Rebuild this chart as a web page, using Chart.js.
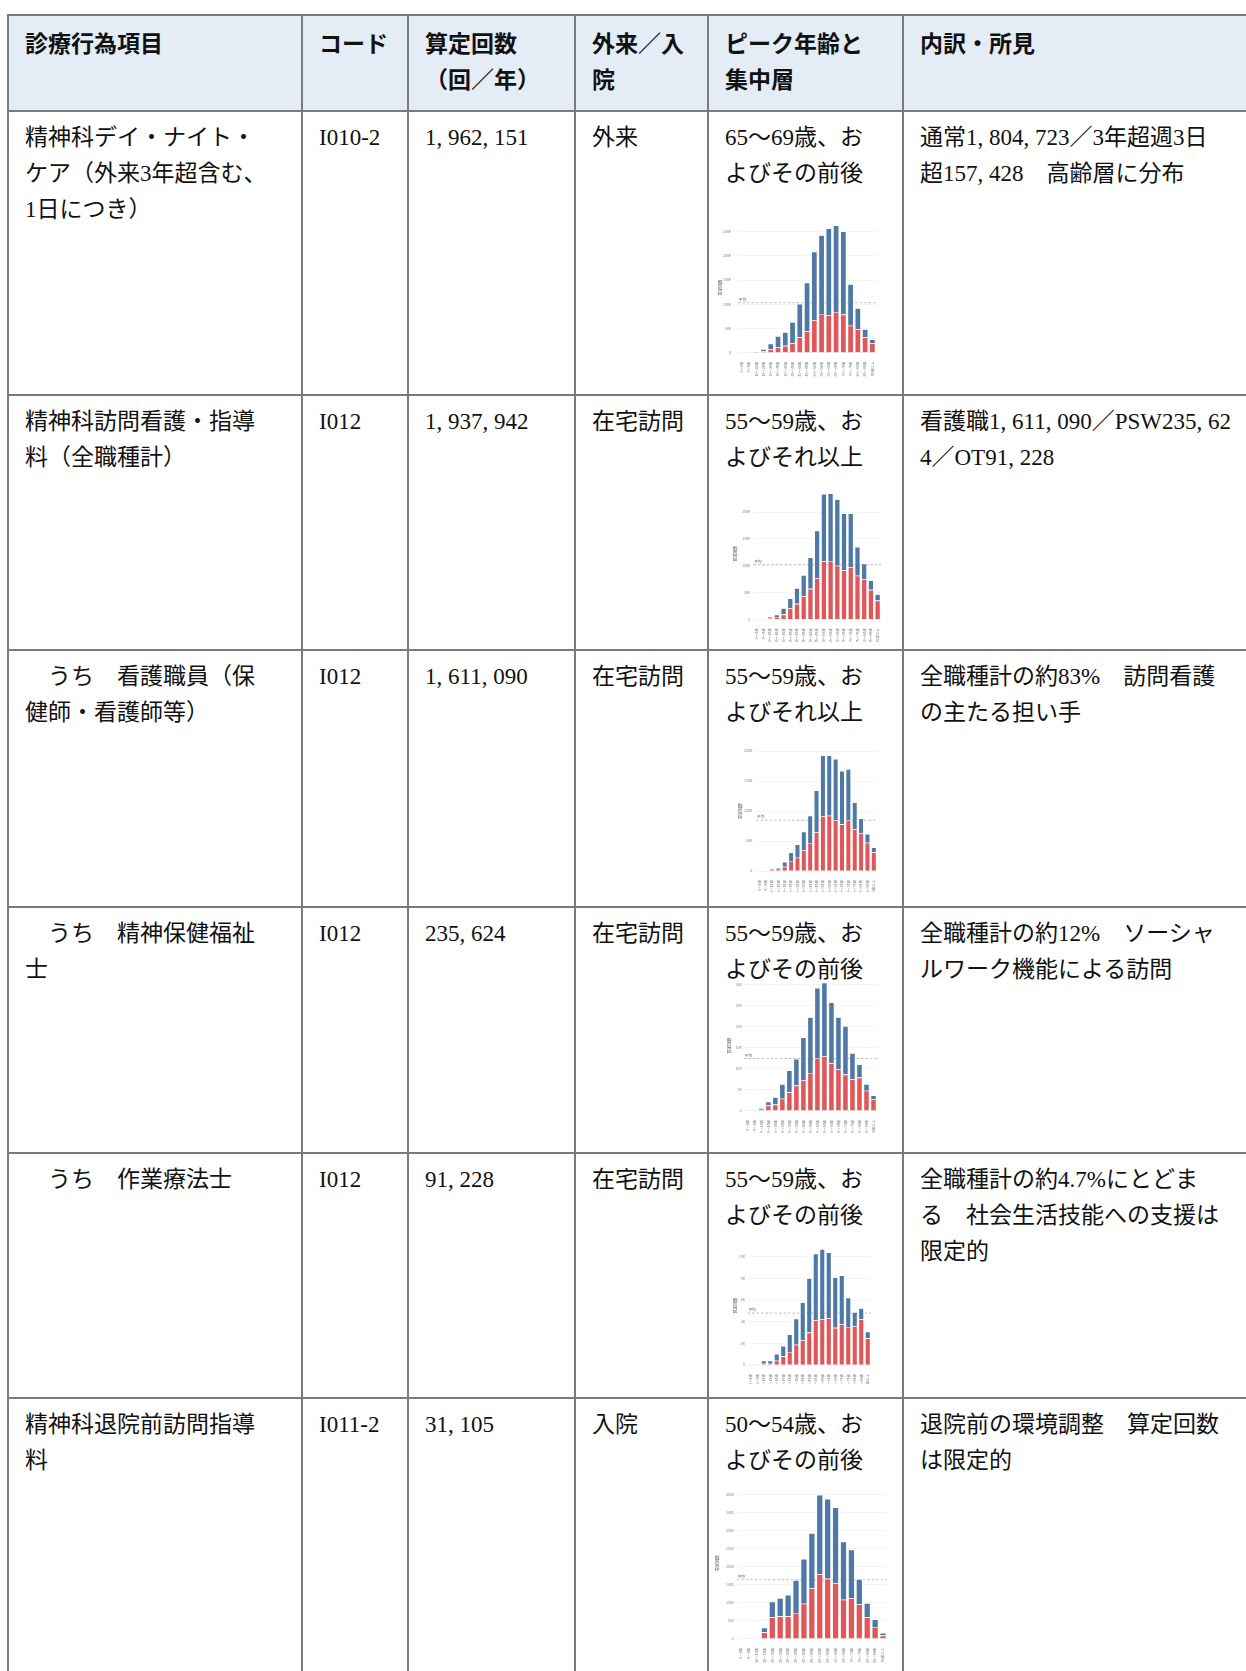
<!DOCTYPE html>
<html lang="ja">
<head>
<meta charset="utf-8">
<script src="https://cdn.jsdelivr.net/npm/chart.js@4.4.1/dist/chart.umd.min.js"></script>
<style>
html,body{margin:0;padding:0;background:#fff;}
body{width:1246px;height:1671px;overflow:hidden;position:relative;}
.ln{position:absolute;background:#7b7b7b;}
.hdr{position:absolute;background:#e4ecf6;}
.t{position:absolute;font-size:23px;line-height:36px;color:#111;white-space:nowrap;
   font-family:"Liberation Serif","Noto Sans CJK JP",serif;}
.h{font-family:"Noto Sans CJK JP",sans-serif;font-weight:700;}
.cm{display:inline-block;width:0.5em;}
canvas{position:absolute;}
</style>
</head>
<body>
<script>
// ---------------- data ----------------
const headerLines = [["診療行為項目"],["コード"],["算定回数","（回／年）"],["外来／入","院"],["ピーク年齢と","集中層"],["内訳・所見"]];
const itemLines = [
  ["精神科デイ・ナイト・","ケア（外来3年超含む、","1日につき）"],
  ["精神科訪問看護・指導","料（全職種計）"],
  ["　うち　看護職員（保","健師・看護師等）"],
  ["　うち　精神保健福祉","士"],
  ["　うち　作業療法士"],
  ["精神科退院前訪問指導","料"]
];
const codes = ["I010-2","I012","I012","I012","I012","I011-2"];
const counts = ["1,962,151","1,937,942","1,611,090","235,624","91,228","31,105"];
const settings = ["外来","在宅訪問","在宅訪問","在宅訪問","在宅訪問","入院"];
const peakLines = [
  ["65〜69歳、お","よびその前後"],
  ["55〜59歳、お","よびそれ以上"],
  ["55〜59歳、お","よびそれ以上"],
  ["55〜59歳、お","よびその前後"],
  ["55〜59歳、お","よびその前後"],
  ["50〜54歳、お","よびその前後"]
];
const noteLines = [
  ["通常1,804,723／3年超週3日","超157,428　高齢層に分布"],
  ["看護職1,611,090／PSW235,62","4／OT91,228"],
  ["全職種計の約83%　訪問看護","の主たる担い手"],
  ["全職種計の約12%　ソーシャ","ルワーク機能による訪問"],
  ["全職種計の約4.7%にとどま","る　社会生活技能への支援は","限定的"],
  ["退院前の環境調整　算定回数","は限定的"]
];

const ageGroups = ["0〜4歳","5〜9歳","10〜14歳","15〜19歳","20〜24歳","25〜29歳","30〜34歳","35〜39歳","40〜44歳","45〜49歳","50〜54歳","55〜59歳","60〜64歳","65〜69歳","70〜74歳","75〜79歳","80〜84歳","85〜89歳","90歳以上"];

// red = lower segment, blue = upper segment (stacked)
const dayNightRed  = [0,0,500,2700,7400,11500,14200,19500,31700,44500,67400,80200,77500,84200,78800,55900,48500,31700,19500];
const dayNightBlue = [0,0,1500,4700,11500,22900,28300,43800,69300,100500,141600,162800,179500,178800,172200,85600,43800,16800,8100];

const visitAllRed  = [0,0,2500,4400,8800,20600,28800,42500,56900,76300,108000,109000,100000,91300,97500,81300,75000,55000,35000];
const visitAllBlue = [0,0,1900,4400,11800,18200,29200,40000,58700,89300,126000,126000,124000,106200,100000,53700,28800,17500,11900];

const nurseRed  = [0,500,1700,3900,7200,16700,22200,34400,46700,64400,91700,92200,85000,77800,84400,70000,63300,47200,31100];
const nurseBlue = [0,100,1600,2200,7800,14300,22200,31200,45500,70000,101300,100800,102000,89200,85600,44400,24500,14500,8300];

const pswRed  = [0,0,560,1270,1500,2900,4400,6000,7300,9000,12500,12900,11300,9800,8600,7500,7900,4800,2800];
const pswBlue = [0,0,310,930,1750,3450,5200,6300,10100,13200,16600,17500,14400,12400,11500,6200,3100,1550,850];

const otRed  = [0,0,120,120,400,810,1220,1880,2280,3000,4160,4250,4310,3440,3750,3530,3600,4250,2470];
const otBlue = [0,80,280,280,630,970,1620,2400,3520,5030,6140,6450,6090,4660,4530,2690,1300,1000,630];

const dischargeRed  = [0,0,0,183,596,624,624,716,972,1394,1780,1661,1532,1083,1128,954,596,330,92];
const dischargeBlue = [0,0,15,129,432,504,596,908,1239,1533,2202,2211,2101,1605,1340,697,395,211,73];

const meanPerAge = [103271,101997,84794,12401,4801,1637];
const axisMax  = [270000,245000,200000,31000,11000,4200];

const yTicksDayNight  = [0,50000,100000,150000,200000,250000];
const yTicksVisitAll  = [0,50000,100000,150000,200000];
const yTicksNurse     = [0,50000,100000,150000,200000];
const yTicksPsw       = [0,5000,10000,15000,20000,25000,30000];
const yTicksOt        = [0,2000,4000,6000,8000,10000];
const yTicksDischarge = [0,500,1000,1500,2000,2500,3000,3500,4000];

// ---------------- layout ----------------
const colLineX = [7,301,407,574,707,902];
const rowLineY = [14,110,394,649,906,1152,1397];
const PAGE_W = 1246, PAGE_H = 1671;

function el(cls, css, html){
  const d=document.createElement('div'); d.className=cls;
  Object.assign(d.style, css); if(html!==undefined) d.innerHTML=html;
  document.body.appendChild(d); return d;
}
el('hdr',{left:colLineX[0]+'px',top:rowLineY[0]+'px',width:(PAGE_W-colLineX[0])+'px',height:(rowLineY[1]-rowLineY[0])+'px'});

function esc(s){ return s.replace(/,/g,'<span class="cm">,</span>'); }
function textBlock(lines, col, rowTop, bold){
  el('t'+(bold?' h':''),{left:(colLineX[col]+18)+'px',top:(rowTop+10)+'px'}, lines.map(esc).join('<br>'));
}
headerLines.forEach((ls,c)=>textBlock(ls,c,rowLineY[0],true));
for(let r=0;r<6;r++){
  const top=rowLineY[r+1];
  textBlock(itemLines[r],0,top);
  textBlock([codes[r]],1,top);
  textBlock([counts[r]],2,top);
  textBlock([settings[r]],3,top);
  textBlock(peakLines[r],4,top);
  textBlock(noteLines[r],5,top);
}
colLineX.forEach(x=>el('ln',{left:x+'px',top:rowLineY[0]+'px',width:'2px',height:(PAGE_H-rowLineY[0])+'px'}));
rowLineY.forEach(y=>el('ln',{left:colLineX[0]+'px',top:y+'px',width:(PAGE_W-colLineX[0])+'px',height:'2px'}));

// chart boxes (page coordinates)
const boxes = [
  {cl:718, plotL:738.1, plotR:875.9, plotT:219.0,  base:352.7,  bottom:380,  tickPad:7},
  {cl:733, plotL:753.3, plotR:881.4, plotT:488.0,  base:619.3,  bottom:642,  tickPad:3},
  {cl:738, plotL:756.1, plotR:877.2, plotT:751.0,  base:871.0,  bottom:892,  tickPad:4},
  {cl:727, plotL:743.8, plotR:876.8, plotT:980.1,  base:1111.0, bottom:1133, tickPad:2},
  {cl:733, plotL:747.5, plotR:870.5, plotT:1245.9, base:1365.0, bottom:1384, tickPad:2.5},
  {cl:715, plotL:736.7, plotR:887.3, plotT:1486.8, base:1638.7, bottom:1664, tickPad:3}
];
const series = [
  [dayNightRed, dayNightBlue, yTicksDayNight],
  [visitAllRed, visitAllBlue, yTicksVisitAll],
  [nurseRed, nurseBlue, yTicksNurse],
  [pswRed, pswBlue, yTicksPsw],
  [otRed, otBlue, yTicksOt],
  [dischargeRed, dischargeBlue, yTicksDischarge]
];

Chart.defaults.font.family = '"Noto Sans CJK JP", sans-serif';

const meanLine = {
  id:'meanLine',
  beforeDatasetsDraw(chart, args, opts){
    const y = chart.scales.y.getPixelForValue(opts.value);
    const a = chart.chartArea, ctx = chart.ctx;
    ctx.save();
    ctx.strokeStyle = '#b0b0b0'; ctx.lineWidth = 0.8; ctx.setLineDash([2.5,2]);
    ctx.beginPath(); ctx.moveTo(a.left, y); ctx.lineTo(a.right, y); ctx.stroke();
    ctx.setLineDash([]);
    ctx.fillStyle = '#555'; ctx.font = '3.6px "Noto Sans CJK JP"';
    ctx.textBaseline = 'bottom';
    ctx.fillText('平均', a.left + 1, y - 1.5);
    ctx.restore();
  }
};

function fmt(v, useK){
  if(v===0) return '0';
  return useK ? (v/1000)+'K' : String(v);
}

boxes.forEach((b,i)=>{
  const padTop = 6, padRight = 4;
  const top = b.plotT - padTop;
  const W = Math.round(b.plotR + padRight - b.cl);
  const H = Math.round(b.bottom - top);
  const cv = document.createElement('canvas');
  cv.width = W; cv.height = H;
  cv.style.left = b.cl+'px'; cv.style.top = top+'px';
  cv.style.width = W+'px'; cv.style.height = H+'px';
  document.body.appendChild(cv);
  const yw = b.plotL - b.cl;
  const tickVals = series[i][2];
  const useK = tickVals[tickVals.length-1] >= 10000;
  new Chart(cv.getContext('2d'),{
    type:'bar',
    data:{labels:ageGroups,datasets:[
      {label:'女性',data:series[i][0],backgroundColor:'#e15759',borderColor:'rgba(255,255,255,0.55)',borderWidth:0.6,barPercentage:0.82,categoryPercentage:1},
      {label:'男性',data:series[i][1],backgroundColor:'#4e79a7',borderColor:'rgba(255,255,255,0.55)',borderWidth:0.6,barPercentage:0.82,categoryPercentage:1}
    ]},
    options:{
      responsive:false, animation:false, devicePixelRatio:1,
      layout:{padding:{top:padTop,right:padRight,left:0,bottom:0}},
      plugins:{legend:{display:false},tooltip:{enabled:false},meanLine:{value:meanPerAge[i]}},
      scales:{
        x:{stacked:true,grid:{display:false},border:{display:false},
           ticks:{autoSkip:false,maxRotation:90,minRotation:90,font:{size:3.5},color:'#777',padding:1},
           afterFit:(s)=>{ s.height = H - padTop - (b.base - b.plotT); }},
        y:{stacked:true,min:0,max:axisMax[i],
           grid:{color:'#ececec',lineWidth:0.6,drawTicks:false},border:{display:false},
           afterBuildTicks:(s)=>{ s.ticks = tickVals.map(v=>({value:v})); },
           ticks:{autoSkip:false,font:{size:3.5},color:'#8a8a8a',padding:b.tickPad,
                  callback:(v)=> fmt(v,useK)},
           title:{display:true,text:'算定回数',font:{size:4},color:'#555',padding:0},
           afterFit:(s)=>{ s.width = yw; }}
      }
    },
    plugins:[meanLine]
  });
});
</script>
</body>
</html>
